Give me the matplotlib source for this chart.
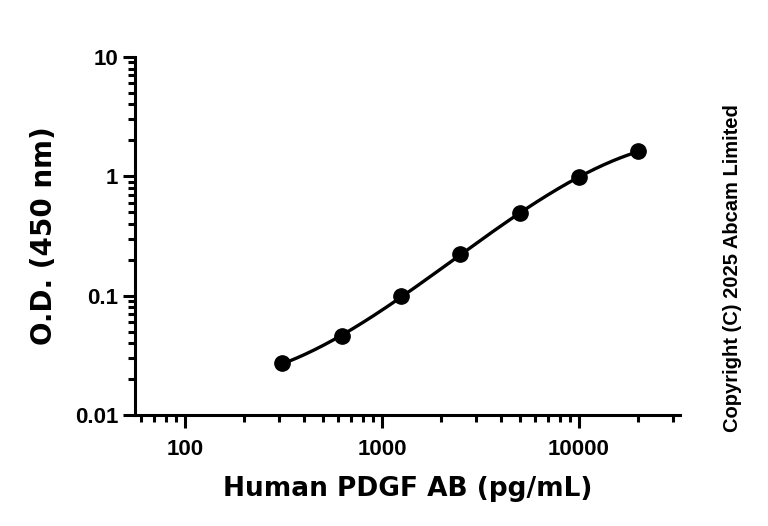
import numpy as np
import matplotlib
matplotlib.use('Agg')
import matplotlib.pyplot as plt
from matplotlib.ticker import LogLocator, NullFormatter, FixedLocator

plt.rcParams['font.family'] = ['Liberation Sans', 'DejaVu Sans']
plt.rcParams['font.weight'] = 'bold'

conc = [312.5, 625, 1250, 2500, 5000, 10000, 20000]   # pg/mL
od = [0.0271, 0.0456, 0.0986, 0.222, 0.490, 0.98, 1.62]
x_ticks = [100, 1000, 10000]
x_labels = ['100', '1000', '10000']
y_ticks = [0.01, 0.1, 1, 10]
y_labels = ['0.01', '0.1', '1', '10']

fig = plt.figure(figsize=(7.68, 5.26), dpi=100)
ax = fig.add_axes([135/768, 1-415/526, (680-135)/768, (415-57)/526])

# smooth curve through the points (cubic in log-log space)
lx = np.log10(conc)
ly = np.log10(od)
p = np.polyfit(lx, ly, 3)
xs = np.linspace(lx[0], lx[-1], 200)
ax.plot(10**xs, 10**np.polyval(p, xs), color='black', lw=2.4)
ax.plot(conc, od, 'o', color='black', ms=11)

ax.set_xscale('log')
ax.set_yscale('log')
ax.set_xlim(10**(2 - 50/197), 10**(4 + 101/197))
ax.set_ylim(0.01, 10)

ax.xaxis.set_major_locator(FixedLocator(x_ticks))
ax.set_xticklabels(x_labels)
ax.xaxis.set_minor_locator(LogLocator(base=10, subs=np.arange(2, 10)))
ax.xaxis.set_minor_formatter(NullFormatter())
ax.yaxis.set_major_locator(FixedLocator(y_ticks))
ax.set_yticklabels(y_labels)
ax.yaxis.set_minor_locator(LogLocator(base=10, subs=np.arange(2, 10)))
ax.yaxis.set_minor_formatter(NullFormatter())

for s in ['top', 'right']:
    ax.spines[s].set_visible(False)
for s in ['left', 'bottom']:
    ax.spines[s].set_linewidth(2.2)
ax.tick_params(which='major', length=9, width=2.2, labelsize=16, pad=3)
ax.tick_params(axis='x', which='major', pad=8)
ax.tick_params(which='minor', length=5, width=2.2)
for lab in ax.get_xticklabels() + ax.get_yticklabels():
    lab.set_fontweight('bold')

ax.set_xlabel('Human PDGF AB (pg/mL)', fontsize=19, fontweight='bold',
              family='DejaVu Sans', labelpad=12)
ax.set_ylabel('O.D. (450 nm)', fontsize=20, fontweight='bold',
              family='DejaVu Sans', labelpad=12)

fig.text(733/768, 1-268/526, 'Copyright (C) 2025 Abcam Limited', rotation=90,
         ha='center', va='center', fontsize=14.5, fontweight='bold')

fig.savefig('out.png', dpi=100)
